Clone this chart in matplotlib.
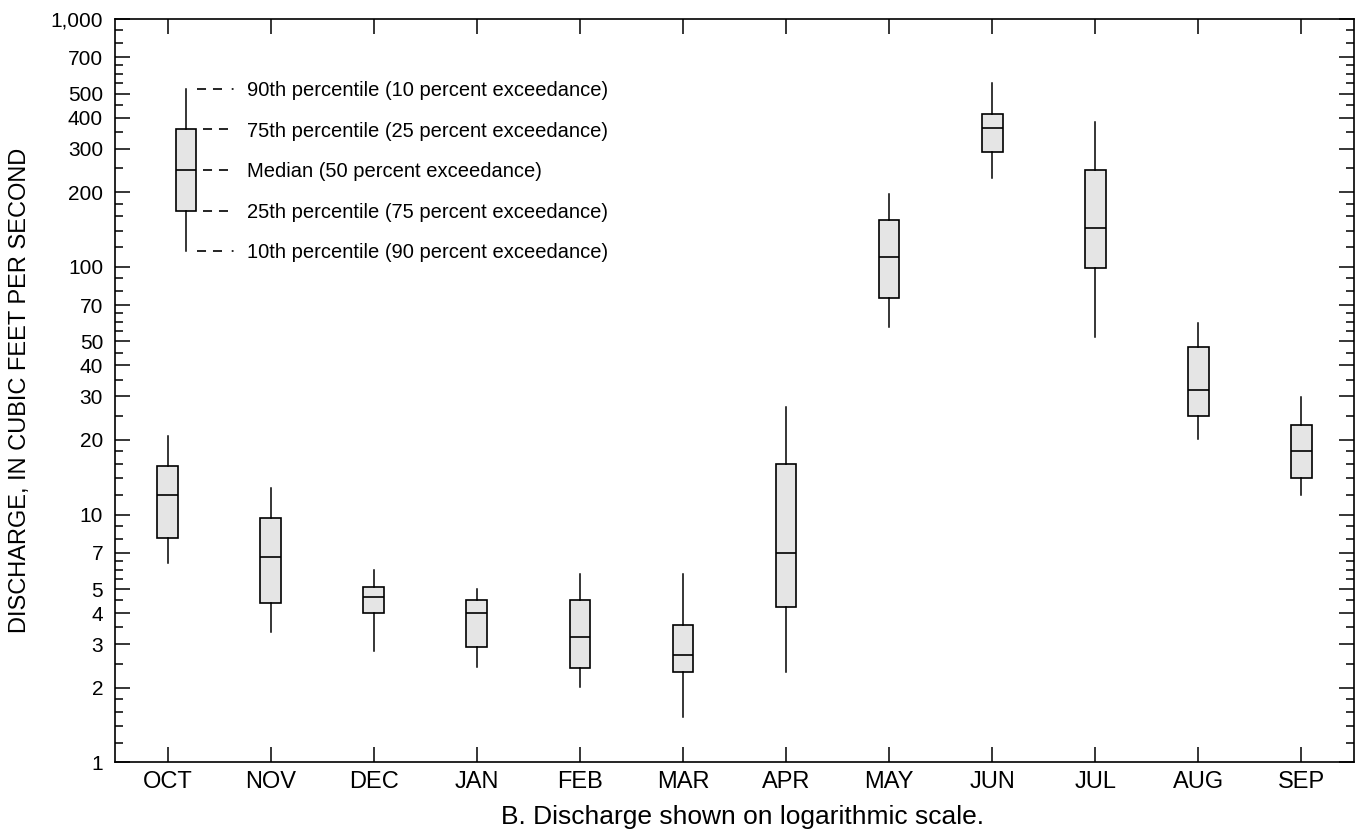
import matplotlib
matplotlib.use('Agg')
import matplotlib.pyplot as plt
from matplotlib.ticker import FixedLocator, NullFormatter, NullLocator

plt.rcParams['font.family'] = ['Liberation Sans', 'DejaVu Sans']
plt.rcParams['lines.scale_dashes'] = False

# ---------------- data ----------------
months = ['OCT', 'NOV', 'DEC', 'JAN', 'FEB', 'MAR', 'APR', 'MAY', 'JUN', 'JUL', 'AUG', 'SEP']
p10 = [6.35, 3.36, 2.82, 2.42, 2.01, 1.52, 2.32, 56.9, 228, 51.9, 20.1, 12.0]
p25 = [8.06, 4.38, 4.01, 2.93, 2.41, 2.31, 4.22, 74.5, 291, 99.0, 24.9, 14.0]
p50 = [11.95, 6.76, 4.65, 4.01, 3.20, 2.71, 7.0, 109, 364, 144, 31.8, 18.0]
p75 = [15.7, 9.68, 5.10, 4.51, 4.51, 3.59, 16.0, 155, 412, 246, 47.5, 22.9]
p90 = [20.8, 12.8, 5.97, 4.99, 5.75, 5.75, 27.2, 196, 550, 383, 59.1, 29.7]

# explanation (legend) box
leg_vals = [116, 168, 246, 359, 524]  # p10, p25, p50, p75, p90
leg_labels = ['10th percentile (90 percent exceedance)',
              '25th percentile (75 percent exceedance)',
              'Median (50 percent exceedance)',
              '75th percentile (25 percent exceedance)',
              '90th percentile (10 percent exceedance)']

ytick_vals = [1, 2, 3, 4, 5, 7, 10, 20, 30, 40, 50, 70, 100, 200, 300, 400, 500, 700, 1000]
ytick_labels = ['1', '2', '3', '4', '5', '7', '10', '20', '30', '40', '50', '70',
                '100', '200', '300', '400', '500', '700', '1,000']
minor_mult = [1.2, 1.4, 1.6, 1.8, 2.5, 3.5, 4.5, 5.5, 6, 6.5, 8, 9]

ylabel = 'DISCHARGE, IN CUBIC FEET PER SECOND'
caption = 'B. Discharge shown on logarithmic scale.'

# ---------------- figure ----------------
W, H = 1365, 833
fig = plt.figure(figsize=(W / 100, H / 100), dpi=100)
ax_l, ax_r, ax_t, ax_b = 115, 1354, 19, 762.3
ax = fig.add_axes([ax_l / W, 1 - ax_b / H, (ax_r - ax_l) / W, (ax_b - ax_t) / H])

box_kw = dict(widths=0.2, patch_artist=True, showcaps=False, showfliers=False,
              boxprops=dict(facecolor='#e5e5e5', edgecolor='black', linewidth=1.2),
              medianprops=dict(color='black', linewidth=1.2),
              whiskerprops=dict(color='black', linewidth=1.1))

stats = [dict(whislo=a, q1=b, med=c, q3=d, whishi=e, fliers=[], label=m)
         for m, a, b, c, d, e in zip(months, p10, p25, p50, p75, p90)]
positions = list(range(1, len(months) + 1))
ax.bxp(stats, positions=positions, manage_ticks=False, **box_kw)

# legend box
leg_x = 1.177
leg_stats = [dict(whislo=leg_vals[0], q1=leg_vals[1], med=leg_vals[2], q3=leg_vals[3],
                  whishi=leg_vals[4], fliers=[], label='')]
ax.bxp(leg_stats, positions=[leg_x], manage_ticks=False, **box_kw)

px = 1 / 103.1  # data units per pixel in x
for i, (v, lab) in enumerate(zip(leg_vals, leg_labels)):
    if i in (0, 4):
        ax.plot([leg_x + 11.3 * px, leg_x + 50 * px], [v, v], color='black', lw=1.2,
                linestyle=(0, (6.5, 5.0, 6.5, 7.0, 1.3, 20)), dash_capstyle='butt')
    else:
        ax.plot([leg_x + 17.3 * px, leg_x + 43 * px], [v, v], color='black', lw=1.2,
                linestyle=(0, (6.5, 5.0)), dash_capstyle='butt')
    ax.text(leg_x + 61.6 * px, v, lab, fontsize=14.5, va='center_baseline', ha='left')

ax.set_yscale('log')
ax.set_ylim(1, 1000)
ax.set_xlim(0.49, 12.51)

ax.set_xticks(positions)
ax.set_xticklabels(months)
ax.xaxis.set_minor_locator(NullLocator())
ax.yaxis.set_major_locator(FixedLocator(ytick_vals))
ax.set_yticklabels(ytick_labels)
minors = [m * 10 ** k for k in range(3) for m in minor_mult]
ax.yaxis.set_minor_locator(FixedLocator(minors))
ax.yaxis.set_minor_formatter(NullFormatter())

ax.tick_params(which='both', direction='in', top=True, right=True, color='black')
ax.tick_params(which='major', length=11, width=1.1)
ax.tick_params(which='minor', length=6, width=1.1)
ax.tick_params(axis='y', which='major', labelsize=15, pad=8.6)
ax.tick_params(axis='x', which='major', labelsize=17, pad=6)
for s in ax.spines.values():
    s.set_linewidth(1.2)

fig.text(9 / W, 1 - (ax_t + ax_b) / 2 / H, ylabel, rotation=90, va='center', ha='left',
         fontsize=17)
fig.text(743 / W, 1 - 817 / H, caption, ha='center', va='center', fontsize=19)

fig.savefig('out.png', dpi=100)
